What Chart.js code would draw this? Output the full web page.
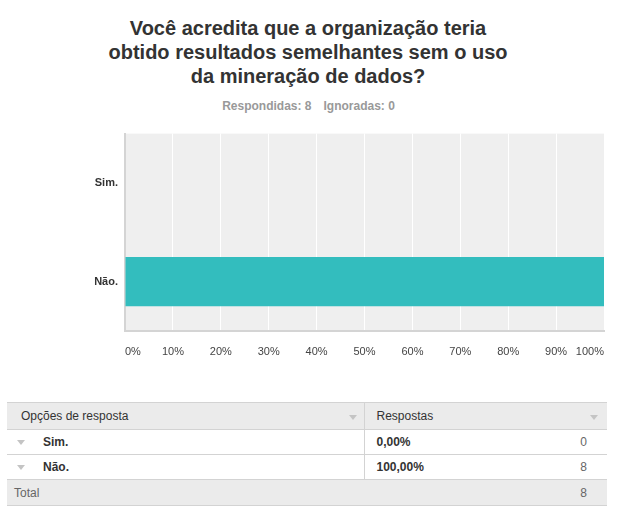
<!DOCTYPE html>
<html>
<head>
<meta charset="utf-8">
<script src="https://cdn.jsdelivr.net/npm/chart.js@4.4.1/dist/chart.umd.min.js"></script>
<style>
  body { margin: 0; width: 628px; height: 523px; background: #fff; position: relative; overflow: hidden;
         font-family: "Liberation Sans", Arial, sans-serif; }
  #title { position: absolute; top: 16px; left: 0; width: 616px; text-align: center;
           font-weight: bold; font-size: 20px; line-height: 24px; color: #333; }
  #meta { position: absolute; top: 99px; left: 0; width: 617px; text-align: center;
          font-weight: bold; font-size: 12px; line-height: 14px; color: #999; }
  #meta span + span { margin-left: 12px; }
  #wrap { position: absolute; left: 0; top: 120px; width: 628px; height: 250px; }
  table { position: absolute; left: 7px; top: 402px; width: 600px; border-collapse: collapse;
          table-layout: fixed; font-size: 12px; color: #333; }
  td { border-top: 1px solid #d3d3d3; border-bottom: 1px solid #d3d3d3; padding: 0; vertical-align: middle;
       white-space: nowrap; }
  tr.head td { background: #ebebeb; height: 26px; }
  tr.row td { height: 24px; }
  tr.total td { background: #ebebeb; height: 25px; color: #666; }
  .c1 { position: relative; }
  .pct { border-left: 1px solid #d3d3d3; padding-left: 12px; font-weight: bold; }
  .cnt { text-align: right; padding-right: 20px; color: #666; }
  .arrow { display: inline-block; width: 0; height: 0; border-left: 4px solid transparent;
           border-right: 4px solid transparent; border-top: 5px solid #c4c4c4; vertical-align: middle; }
  .lab { font-weight: bold; }
</style>
</head>
<body>
<div id="title">Você acredita que a organização teria<br>obtido resultados semelhantes sem o uso<br>da mineração de dados?</div>
<div id="meta"></div>
<div id="wrap"><canvas id="chart" width="628" height="250"></canvas></div>
<table id="tbl"></table>
<script>
  // respostas da pergunta
  const categories = ["Sim.", "Não."];
  const percentages = [0, 100];
  const counts = [0, 8];
  const answered = 8;
  const skipped = 0;
  const xTicks = [0, 10, 20, 30, 40, 50, 60, 70, 80, 90, 100];

  document.getElementById("meta").innerHTML =
    "<span>Respondidas: " + answered + "</span><span>Ignoradas: " + skipped + "</span>";

  // tabela de respostas
  const fmt = (v) => v.toFixed(2).replace(".", ",") + "%";
  let html = '<colgroup><col style="width:357px"><col style="width:183px"><col style="width:60px"></colgroup>';
  html += '<tr class="head"><td class="c1" style="padding-left:14px">Opções de resposta' +
    '<span class="arrow" style="position:absolute;right:7px;top:12px"></span></td>' +
    '<td class="pct" colspan="2" style="font-weight:normal;position:relative">Respostas' +
    '<span class="arrow" style="position:absolute;right:9px;top:12px"></span></td></tr>';
  categories.forEach((c, i) => {
    html += '<tr class="row"><td class="c1"><span class="arrow" style="margin:0 18px 0 10px"></span>' +
      '<span class="lab">' + c + '</span></td><td class="pct">' + fmt(percentages[i]) +
      '</td><td class="cnt">' + counts[i] + '</td></tr>';
  });
  const total = counts.reduce((a, b) => a + b, 0);
  html += '<tr class="total"><td colspan="2" style="padding-left:7px">Total</td><td class="cnt">' + total + '</td></tr>';
  document.getElementById("tbl").innerHTML = html;

  // fundo cinza da área do gráfico
  const plotBg = {
    id: "plotBg",
    beforeDraw(chart) {
      const { ctx, chartArea: a } = chart;
      ctx.save();
      ctx.fillStyle = "#efefef";
      ctx.fillRect(a.left, a.top, a.right - a.left, a.bottom - a.top);
      ctx.restore();
    },
  };

  Chart.defaults.font.family = '"Liberation Sans", Arial, sans-serif';

  const ctx = document.getElementById("chart").getContext("2d");
  new Chart(ctx, {
    type: "bar",
    data: {
      labels: categories,
      datasets: [
        {
          data: percentages,
          backgroundColor: "#33bdbe",
          barPercentage: 1,
          categoryPercentage: 0.5,
        },
      ],
    },
    plugins: [plotBg],
    options: {
      indexAxis: "y",
      responsive: false,
      animation: false,
      layout: { padding: { top: 11, right: 24, left: 0, bottom: 0 } },
      plugins: { legend: { display: false }, tooltip: { enabled: false } },
      scales: {
        x: {
          min: 0,
          max: 100,
          afterFit: (s) => { s.height = 39; },
          afterBuildTicks: (s) => { s.ticks = xTicks.map((v) => ({ value: v })); },
          grid: {
            drawTicks: false,
            color: (c) => (c.index === 0 ? "rgba(0,0,0,0)" : "#ffffff"),
            lineWidth: 1,
          },
          border: { display: true, color: "#d4d4d4", width: 2 },
          ticks: {
            padding: 14,
            align: "inner",
            maxRotation: 0,
            autoSkip: false,
            color: "#444",
            font: { size: 11 },
            callback: (v) => v + "%",
          },
        },
        y: {
          afterFit: (s) => { s.width = 125; },
          grid: { display: false, drawTicks: false },
          border: { display: true, color: "#d4d4d4", width: 2 },
          ticks: { padding: 7, color: "#333", font: { size: 11, weight: "bold" } },
        },
      },
    },
  });
</script>
</body>
</html>
